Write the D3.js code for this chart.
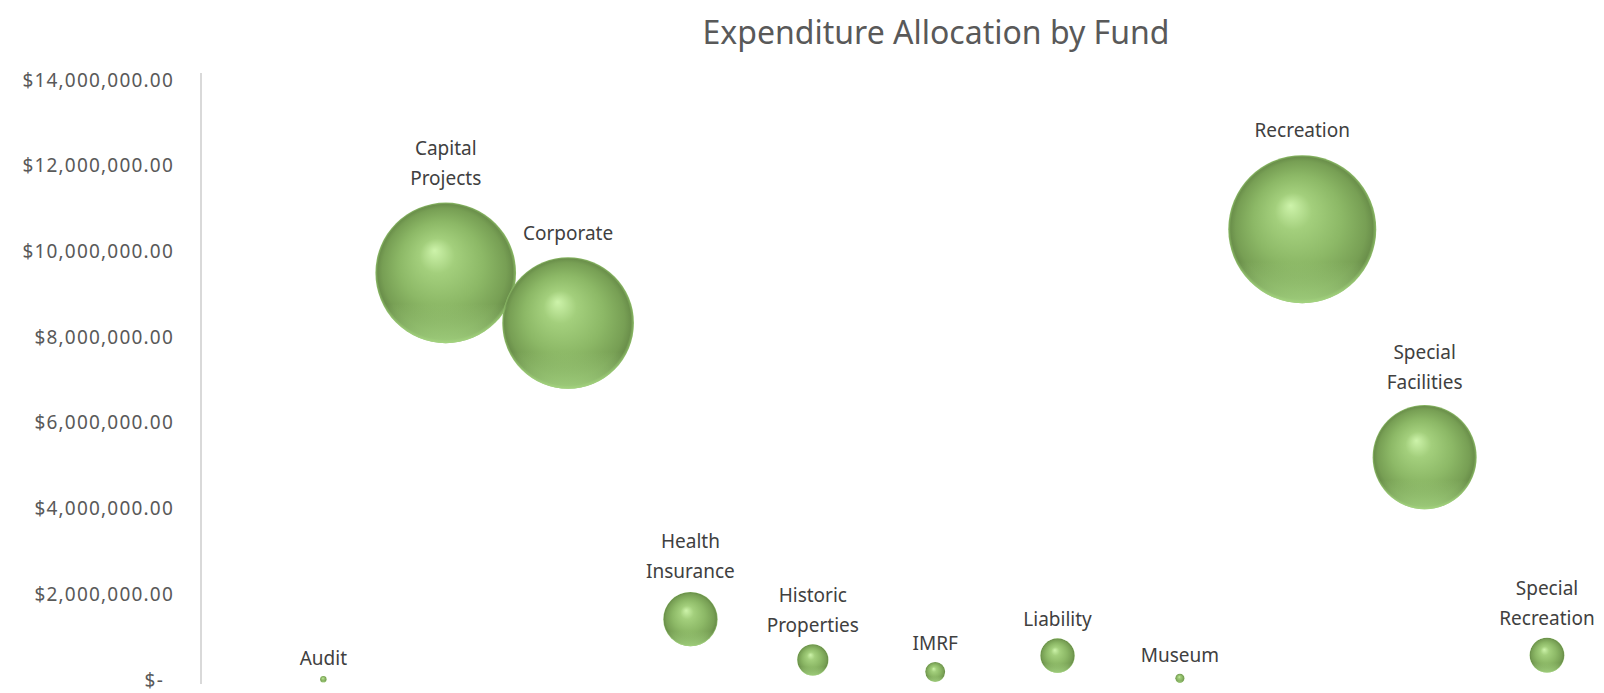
<!DOCTYPE html>
<html lang="en">
<head>
    <meta charset="UTF-8">
    <title>Expenditure Allocation by Fund</title>
    <script src="https://d3js.org/d3.v7.min.js"></script>
    <style>
        body { margin: 0; background: #fff; font-family: "Noto Sans", sans-serif; }
        .tick text { fill: #595959; }
        .bubble-label { fill: #404040; }
    </style>
</head>
<body>
    <div id="chart"></div>
    <script>
        // fund names (x positions 1..11) and expenditure, bubble size = expenditure
        const funds = ["Audit", "Capital Projects", "Corporate", "Health Insurance", "Historic Properties",
            "IMRF", "Liability", "Museum", "Recreation", "Special Facilities", "Special Recreation"];
        const expenditure = [20000, 9500000, 8330000, 1420000, 470000, 190000, 570000, 40000, 10520000, 5200000, 580000];
        const labelLines = [["Audit"], ["Capital", "Projects"], ["Corporate"], ["Health", "Insurance"],
            ["Historic", "Properties"], ["IMRF"], ["Liability"], ["Museum"], ["Recreation"],
            ["Special", "Facilities"], ["Special", "Recreation"]];
        const yTicks = [0, 2000000, 4000000, 6000000, 8000000, 10000000, 12000000, 14000000];

        const width = 1604, height = 693;

        const svg = d3.select("#chart").append("svg")
            .attr("width", width)
            .attr("height", height);

        const x = d3.scaleLinear().domain([0, 11]).range([201, 1547]);
        const y = d3.scaleLinear().domain([0, 14000000]).range([680, 80]);
        const r = d3.scaleSqrt().domain([0, d3.max(expenditure)]).range([0, 74]);

        const defs = svg.append("defs");
        const grad = defs.append("radialGradient")
            .attr("id", "ball")
            .attr("cx", "50%").attr("cy", "50%").attr("r", "50%")
            .attr("fx", "42%").attr("fy", "34%");
        grad.append("stop").attr("offset", "0%").attr("stop-color", "#cdf3aa");
        grad.append("stop").attr("offset", "25%").attr("stop-color", "#a3cf7c");
        grad.append("stop").attr("offset", "60%").attr("stop-color", "#8cb866");
        grad.append("stop").attr("offset", "88%").attr("stop-color", "#779f54");
        grad.append("stop").attr("offset", "96%").attr("stop-color", "#6b904b");
        grad.append("stop").attr("offset", "100%").attr("stop-color", "#8cbb67");

        const rim = defs.append("linearGradient")
            .attr("id", "rim").attr("x1", 0).attr("y1", 0).attr("x2", 0).attr("y2", 1);
        rim.append("stop").attr("offset", "72%").attr("stop-color", "#a8d884").attr("stop-opacity", 0);
        rim.append("stop").attr("offset", "100%").attr("stop-color", "#a8d884").attr("stop-opacity", 0.85);

        defs.append("clipPath").attr("id", "plot")
            .append("rect").attr("x", 201).attr("y", 60).attr("width", width - 201).attr("height", 624);

        svg.append("text")
            .attr("x", 936)
            .attr("y", 44)
            .attr("text-anchor", "middle")
            .attr("fill", "#595959")
            .style("font-size", "32px")
            .text("Expenditure Allocation by Fund");

        const yAxis = svg.append("g")
            .attr("transform", "translate(174,0)")
            .call(d3.axisLeft(y).tickValues(yTicks).tickSize(0).tickPadding(0)
                .tickFormat(d => d === 0 ? "$-" : "$" + d3.format(",.2f")(d)));
        yAxis.select(".domain").remove();
        yAxis.selectAll("text")
            .style("font-size", "19px")
            .style("letter-spacing", "1.2px")
            .style("font-family", "'Noto Sans', sans-serif")
            .attr("dx", d => d === 0 ? -10 : 0);

        svg.append("line")
            .attr("x1", 201).attr("x2", 201)
            .attr("y1", 73).attr("y2", 684)
            .attr("stroke", "#d9d9d9")
            .attr("stroke-width", 2);

        const data = funds.map((f, i) => ({ fund: f, idx: i + 1, value: expenditure[i], lines: labelLines[i] }));

        const plot = svg.append("g").attr("clip-path", "url(#plot)");

        plot.selectAll(".bubble")
            .data(data)
            .enter()
            .append("circle")
            .attr("class", "bubble")
            .attr("cx", d => x(d.idx))
            .attr("cy", d => y(d.value))
            .attr("r", d => r(d.value))
            .attr("fill", "url(#ball)");

        plot.selectAll(".rim")
            .data(data)
            .enter()
            .append("circle")
            .attr("class", "rim")
            .attr("cx", d => x(d.idx))
            .attr("cy", d => y(d.value))
            .attr("r", d => r(d.value))
            .attr("fill", "url(#rim)");

        // label sits above the bubble; the gap grows a little with bubble size
        const labels = svg.selectAll(".bubble-label")
            .data(data)
            .enter()
            .append("text")
            .attr("class", "bubble-label")
            .attr("text-anchor", "middle")
            .style("font-size", "19px")
            .attr("x", d => x(d.idx))
            .attr("y", d => y(d.value) - r(d.value) * 1.1 - 11 - (d.lines.length - 1) * 30);

        labels.selectAll("tspan")
            .data(d => d.lines.map(l => ({ l, cx: x(d.idx) })))
            .enter()
            .append("tspan")
            .attr("x", t => t.cx)
            .attr("dy", (t, i) => i === 0 ? 0 : 30)
            .text(t => t.l);
    </script>
</body>
</html>
